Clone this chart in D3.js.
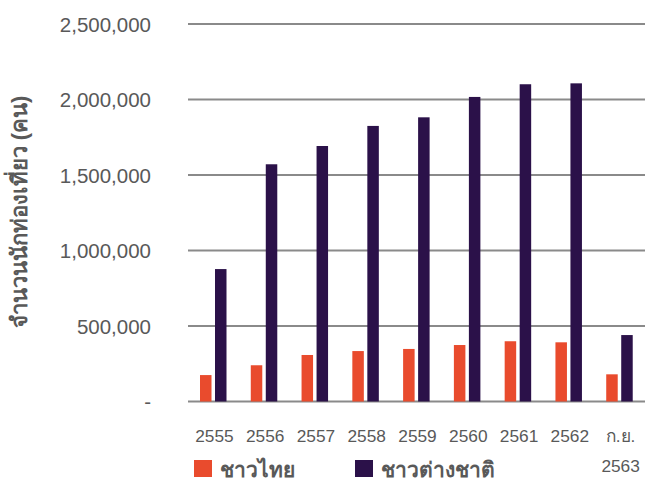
<!DOCTYPE html>
<html>
<head>
<meta charset="utf-8">
<script src="https://cdn.jsdelivr.net/npm/d3@7"></script>
<style>
  body { margin: 0; background: #fff; }
  text { font-family: "Liberation Sans", Arial, sans-serif; }
</style>
</head>
<body>
<div id="chart"></div>
<script>
const categories = ["2555", "2556", "2557", "2558", "2559", "2560", "2561", "2562", "ก.ย. 2563"];
const thaiVisitors = [175000, 240000, 308000, 334000, 348000, 374000, 399000, 392000, 180000];
const foreignVisitors = [877000, 1571000, 1692000, 1825000, 1882000, 2017000, 2101000, 2107000, 440000];
const yTicks = [0, 500000, 1000000, 1500000, 2000000, 2500000];
const seriesNames = ["ชาวไทย", "ชาวต่างชาติ"];
const colors = ["#e94b2d", "#2b1149"];

const width = 645, height = 482;
const svg = d3.select("#chart").append("svg")
    .attr("width", width)
    .attr("height", height);

const x = d3.scaleBand().domain(categories).range([188, 645]);
const y = d3.scaleLinear().domain([0, 2500000]).range([401.5, 24]);

// grid lines
svg.selectAll(".grid")
    .data(yTicks)
    .join("line")
    .attr("x1", 188).attr("x2", 645)
    .attr("y1", d => y(d)).attr("y2", d => y(d))
    .attr("stroke", "#8a8a8a")
    .attr("stroke-width", 2.2);

// y tick labels
const fmt = d3.format(",");
svg.selectAll(".ytick")
    .data(yTicks)
    .join("text")
    .attr("x", 151)
    .attr("y", d => y(d) + 7.5)
    .attr("text-anchor", "end")
    .attr("font-size", 20.5)
    .attr("fill", "#595959")
    .text(d => d === 0 ? "-" : fmt(d));

// y axis title
svg.append("text")
    .attr("transform", "translate(27,212) rotate(-90)")
    .attr("text-anchor", "middle")
    .attr("font-size", 22)
    .attr("font-weight", "bold")
    .attr("fill", "#595959")
    .text("จำนวนนักท่องเที่ยว (คน)");

// bars
const barW = 11.5;
const groups = svg.selectAll(".cat")
    .data(categories)
    .join("g")
    .attr("transform", d => `translate(${x(d)},0)`);

groups.append("rect")
    .attr("x", 12)
    .attr("width", barW)
    .attr("y", (d, i) => y(thaiVisitors[i]))
    .attr("height", (d, i) => y(0) - y(thaiVisitors[i]))
    .attr("fill", colors[0]);

groups.append("rect")
    .attr("x", 27)
    .attr("width", barW)
    .attr("y", (d, i) => y(foreignVisitors[i]))
    .attr("height", (d, i) => y(0) - y(foreignVisitors[i]))
    .attr("fill", colors[1]);

// x labels (last one wraps to two lines)
svg.selectAll(".xlab")
    .data(categories)
    .join("text")
    .attr("y", 442)
    .attr("text-anchor", "middle")
    .attr("font-size", 17.3)
    .attr("fill", "#595959")
    .each(function(d) {
        const parts = d.split(" ");
        d3.select(this).selectAll("tspan")
            .data(parts)
            .join("tspan")
            .attr("x", x(d) + x.bandwidth() / 2 + 1)
            .attr("dy", (p, j) => j === 0 ? 0 : 30)
            .text(p => p);
    });

// legend
const legendX = [194, 355];
seriesNames.forEach((name, i) => {
    svg.append("rect")
        .attr("x", legendX[i])
        .attr("y", 460)
        .attr("width", 18)
        .attr("height", 17)
        .attr("fill", colors[i]);
    svg.append("text")
        .attr("x", legendX[i] + 26)
        .attr("y", 477)
        .attr("font-size", 21)
        .attr("font-weight", "bold")
        .attr("fill", "#595959")
        .text(name);
});
</script>
</body>
</html>
